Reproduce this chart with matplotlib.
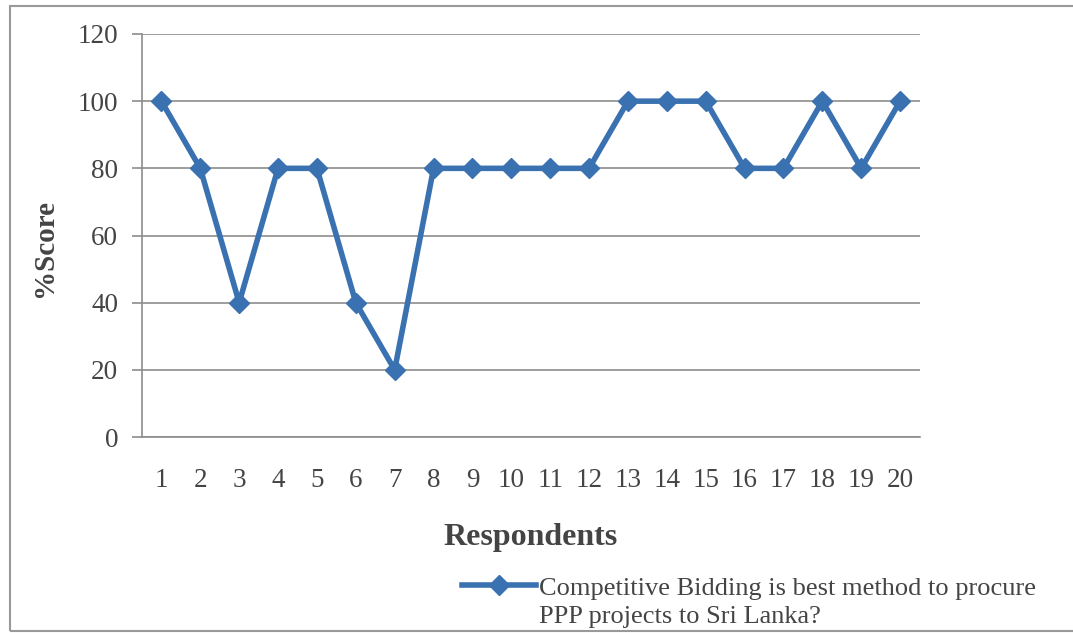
import matplotlib.pyplot as plt
from matplotlib.patches import Rectangle

plt.rcParams['font.family'] = ['Liberation Serif', 'DejaVu Serif']

respondents = list(range(1, 21))
scores = [100, 80, 40, 80, 80, 40, 20, 80, 80, 80,
          80, 80, 100, 100, 100, 80, 80, 100, 80, 100]
label_line1 = "Competitive Bidding is best method to procure"
label_line2 = "PPP projects to Sri Lanka?"

line_col = '#3a71b0'
grid_col = '#8c8c8c'
text_col = '#444444'

fig = plt.figure(figsize=(10.73, 6.33), dpi=100)
ax = fig.add_axes([0.1323, 0.3096, 0.7247, 0.6367])

ax.plot(respondents, scores, color=line_col, lw=4.0, marker='D',
        markersize=10.5, label=label_line1, zorder=3)

ax.set_xlim(0.5, 20.5)
ax.set_ylim(0, 120)
ax.set_yticks(range(0, 121, 20))
ax.set_xticks(respondents)
ax.yaxis.grid(True, color=grid_col, lw=1.2)
ax.set_axisbelow(True)

for s in ['top', 'right']:
    ax.spines[s].set_visible(False)
for s in ['left', 'bottom']:
    ax.spines[s].set_color(grid_col)
    ax.spines[s].set_linewidth(1.2)

ax.tick_params(axis='y', length=7, width=1.2, color=grid_col, labelsize=19.5,
               labelcolor=text_col, pad=10)
ax.tick_params(axis='x', length=0, labelsize=19.5, labelcolor=text_col, pad=22)

ax.set_xlabel('Respondents', fontsize=23, fontweight='bold', color=text_col,
              labelpad=22)
ax.set_ylabel('%Score', fontsize=21, fontweight='bold', color=text_col)
ax.yaxis.set_label_coords(-0.108, 0.469)

leg = ax.legend(loc='upper left', bbox_to_anchor=(0.431, 0.090),
                bbox_transform=fig.transFigure, frameon=False, fontsize=19,
                handlelength=2.8, handletextpad=0.1, labelcolor=text_col,
                borderpad=0, borderaxespad=0)

# second line of the legend entry, hung under the first
ax.annotate(label_line2, xy=(0, 0), xycoords=leg.get_texts()[0],
            xytext=(0, -5), textcoords='offset points', va='top', ha='left',
            fontsize=19, color=text_col, zorder=10, annotation_clip=False)

# outer chart border
fig.add_artist(Rectangle((0.009, 0.003), 1.2, 0.988, transform=fig.transFigure,
                         fill=False, ec='#999999', lw=1.5))

fig.savefig('out.png', dpi=100)
